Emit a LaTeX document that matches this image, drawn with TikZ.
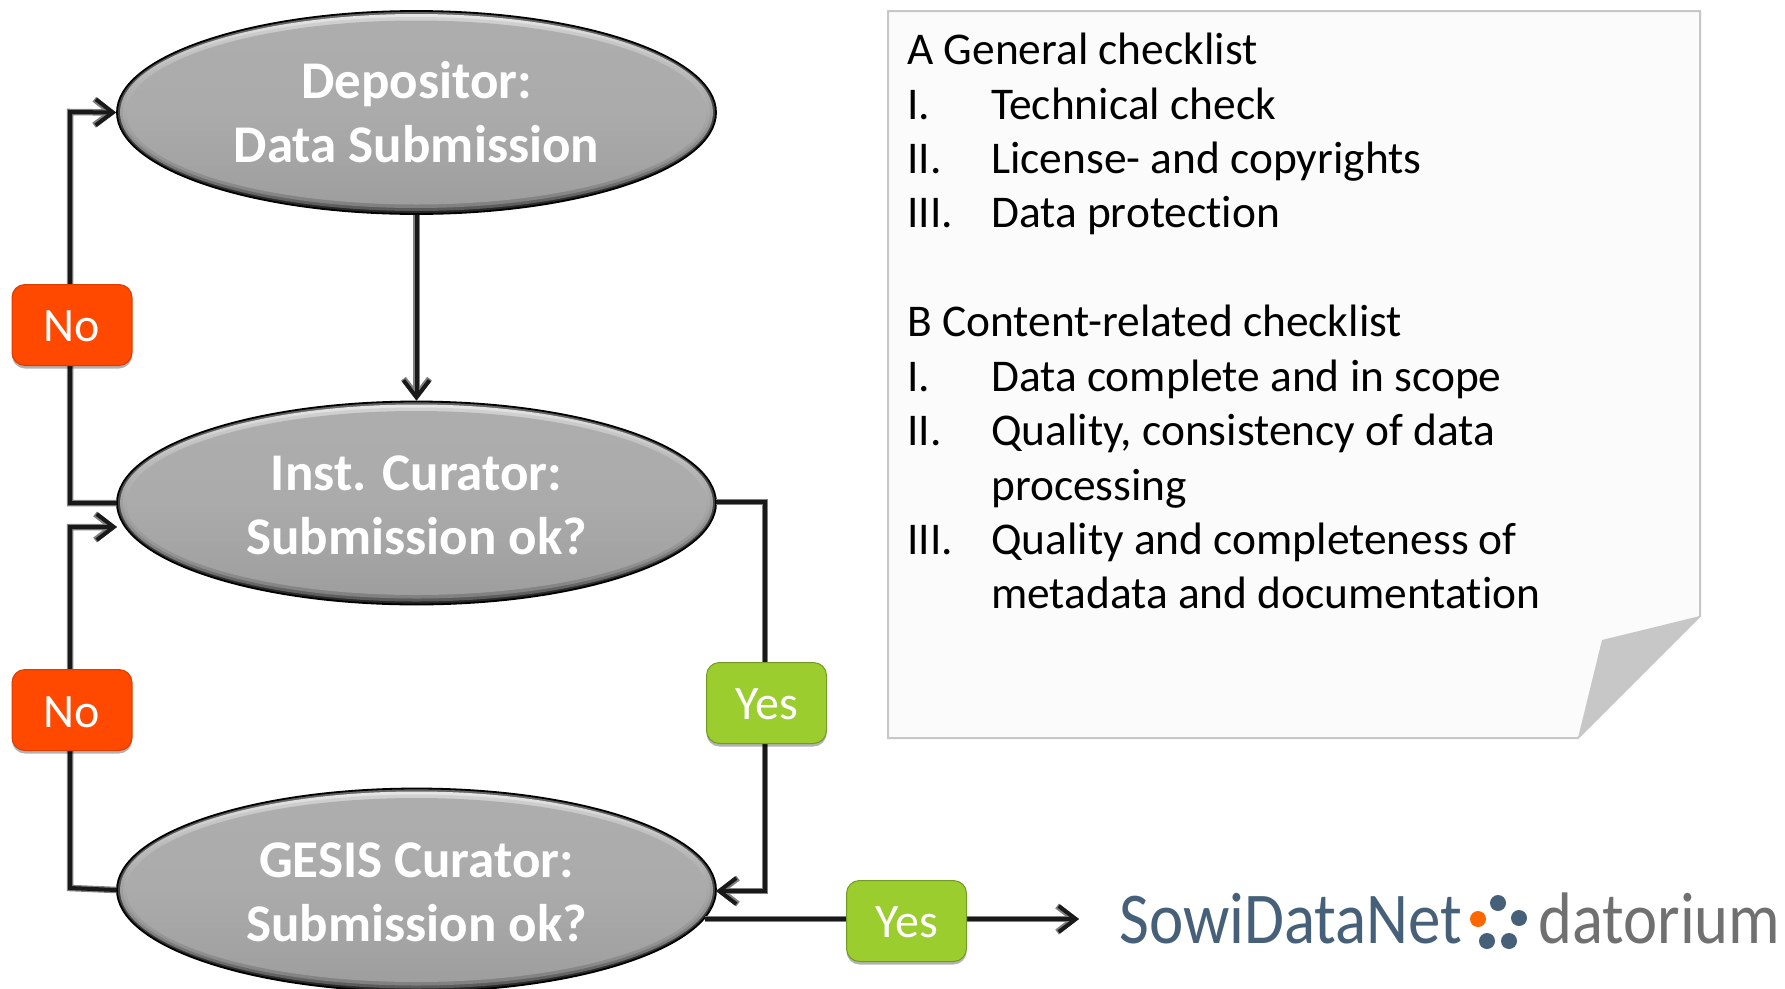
\documentclass[tikz,border=0pt]{standalone}
\usepackage{fontspec}
\setmainfont[Ligatures=NoCommon]{Carlito}
\usetikzlibrary{shapes.geometric,arrows.meta,shadows}
\definecolor{slate}{HTML}{456078}
\definecolor{orng}{HTML}{FF4800}
\definecolor{grn}{HTML}{9ACD2D}
\newcommand{\lowertext}[1]{\raisebox{-2pt}[\height][\depth]{#1}}
\tikzset{
  actor/.style={ellipse,inner sep=0pt,minimum width=599pt,minimum height=203pt,draw=black,line width=1.8pt,
    text=white,align=center,font=\fontsize{53}{64}\selectfont\bfseries,
    path picture={
      \coordinate (pc) at (path picture bounding box.center);
      \shade[top color=black!60,bottom color=black!85] (pc) ellipse [x radius=300pt,y radius=102pt];
      \shade[top color=black!10,bottom color=black!65] (pc) ellipse [x radius=296.5pt,y radius=98.5pt];
      \shade[top color=black!18,bottom color=black!50] (pc) ellipse [x radius=293.5pt,y radius=95.5pt];
      \shade[top color=black!32,bottom color=black!38,middle color=black!33] (pc) ellipse [x radius=290pt,y radius=92pt];
    }},
  tag/.style={rectangle,rounded corners=13pt,minimum width=120pt,minimum height=81pt,inner sep=0pt,
    text=white,font=\fontsize{48}{48}\selectfont,line width=1pt,
    drop shadow={shadow xshift=0pt,shadow yshift=-3pt,opacity=.3,fill=black}},
  notag/.style={tag,fill=orng,draw=orng!85!black},
  yestag/.style={tag,fill=grn,draw=grn!75!black},
  flow/.style={line width=4pt,draw=black!90,line join=miter,-{Straight Barb[length=17pt,width=26pt,line width=4pt]},
    preaction={draw=black!50,line width=6.5pt,line join=miter,-{Straight Barb[length=17pt,width=26pt,line width=6pt]}}},
  note/.style={anchor=base west,inner sep=0pt,text=black,font=\fontsize{45.4}{45.4}\selectfont},
  logo/.style={anchor=base west,inner sep=0pt,font=\fontsize{73}{73}\selectfont},
}
\begin{document}
\begin{tikzpicture}[x=1pt,y=-1pt]
\path[use as bounding box,clip] (0,0) rectangle (1785,988);
\fill[white] (0,0) rectangle (1785,988);

% note paper
\draw[fill=black!1.5,draw=black!22,line width=2pt,line join=miter] (888,11) -- (1700,11) -- (1700,616) -- (1578,738) -- (888,738) -- cycle;
\fill[black!22] (1700,616) -- (1602,640) -- (1578,738) -- cycle;

\node[note] (t1) at (907,64) {A General checklist};
\node[note] (n1a) at (907,119) {I.};
\node[note] (t1a) at (991,119) {Technical check};
\node[note] (n1b) at (907,173) {II.};
\node[note] (t1b) at (991,173) {License- and copyrights};
\node[note] (n1c) at (907,227) {III.};
\node[note] (t1c) at (991,227) {Data protection};
\node[note] (t2) at (907,336) {B Content-related checklist};
\node[note] (n2a) at (907,391) {I.};
\node[note] (t2a) at (991,391) {Data complete and in scope};
\node[note] (n2b) at (907,445) {II.};
\node[note] (t2b) at (991,445) {Quality, consistency of data};
\node[note] (t2bb) at (991,500) {processing};
\node[note] (n2c) at (907,554) {III.};
\node[note] (t2c) at (991,554) {Quality and completeness of};
\node[note] (t2cc) at (991,608) {metadata and documentation};

% actors
\node[actor] (dep) at (416.5,112.5) {Depositor:\\Data Submission};
\node[actor] (inst) at (416.5,503) {\lowertext{Inst. Curator:}\\\lowertext{Submission ok?}};
\node[actor] (gesis) at (416.5,890) {\lowertext{GESIS Curator:}\\\lowertext{Submission ok?}};

% free connector ends
\coordinate (instL) at (117,527);
\coordinate (gesR) at (716,891);
\coordinate (gesOut) at (705,919);
\coordinate (instOutR) at (716,502);
\coordinate (logoIn) at (1079,919);

% connectors
\draw[flow] (dep.south) -- (inst.north);
\draw[flow] (inst.west) -- (70,503) -- (70,112) -- (dep.west);
\draw[flow] (gesis.west) -- (70,888) -- (70,527) -- (instL);
\draw[flow] (instOutR) -- (765,502) -- (765,891) -- (gesR);
\draw[flow] (gesOut) -- (logoIn);

% tags
\node[notag] (no1) at (72,325) {\raisebox{-1pt}[\height][\depth]{No}};
\node[notag] (no2) at (72,710) {\raisebox{-2pt}[\height][\depth]{No}};
\node[yestag] (yes1) at (766.5,703) {\raisebox{-1pt}[\height][\depth]{Yes}};
\node[yestag] (yes2) at (906.5,921) {\raisebox{-1pt}[\height][\depth]{Yes}};

% logo
\node[logo,text=slate] (sowi) at (1119,943) {\scalebox{.89}[1]{SowiDataNet}};
\node[logo,text=black!56] (dat) at (1538,943) {\scalebox{.885}[1]{datorium}};
\fill[orange!80!red] (1478,919) circle [radius=8pt];
\fill[slate] (1498,903) circle [radius=8pt];
\fill[slate] (1519,918) circle [radius=8pt];
\fill[slate] (1509,941) circle [radius=8pt];
\fill[slate] (1487,941) circle [radius=8pt];
\end{tikzpicture}
\end{document}
